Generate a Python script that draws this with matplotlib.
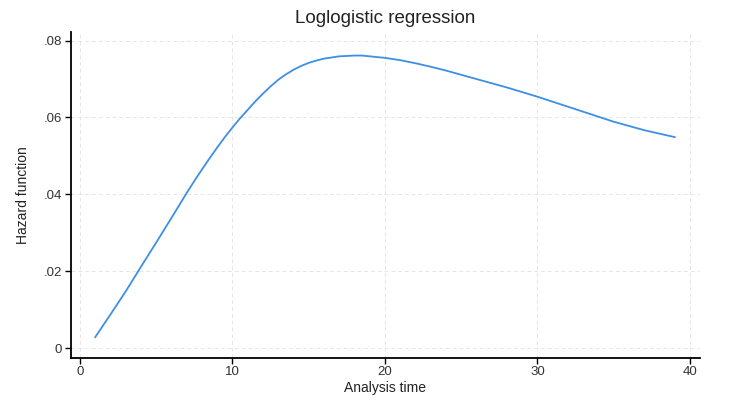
import matplotlib
matplotlib.use("Agg")
import matplotlib.pyplot as plt

# Analysis time and hazard values
tiempo = [1, 2, 3, 4, 5, 6, 7, 7.5, 8, 8.5, 9, 9.5, 10, 10.5, 11, 11.5, 12, 12.5,
          13, 13.5, 14, 14.5, 15, 15.5, 16, 16.5, 17, 17.5, 18, 18.5, 19, 20,
          21, 22, 23, 24, 25, 26, 27, 28, 29, 30, 31, 32, 33, 34, 35, 36, 37, 38, 39]
hazard = [0.0029, 0.0088, 0.0148, 0.0212, 0.0275, 0.0339, 0.0404, 0.0435, 0.0465, 0.0494,
          0.0522, 0.0549, 0.0574, 0.0598, 0.0620, 0.0642, 0.0662, 0.0681,
          0.0698, 0.0712, 0.0724, 0.0734, 0.0742, 0.0748, 0.0753, 0.0756, 0.0759, 0.0760,
          0.0761, 0.0761, 0.0759, 0.0755,
          0.0749, 0.0741, 0.0732, 0.0722, 0.0711, 0.0700, 0.0689, 0.0678, 0.0666, 0.0654,
          0.0641, 0.0628, 0.0615, 0.0602, 0.0589, 0.0578, 0.0567, 0.0558, 0.0549]

x_ticks = [0, 10, 20, 30, 40]
y_ticks = [0, 0.02, 0.04, 0.06, 0.08]
y_labels = ["0", ".02", ".04", ".06", ".08"]

plt.rcParams['font.family'] = ['Liberation Sans', 'DejaVu Sans']

fig = plt.figure(figsize=(7.34, 4.04), dpi=100)
ax = fig.add_axes([0.0963, 0.1146, 0.8574, 0.8069])

ax.plot(tiempo, hazard, color='#3d8fe6', linewidth=1.3)

ax.set_xlim(-0.61, 40.66)
ax.set_ylim(-0.00245, 0.0823)
ax.set_xticks(x_ticks)
ax.set_yticks(y_ticks)
ax.set_yticklabels(y_labels)

ax.grid(True, color='#e6e6e6', linestyle=(0, (4, 3)), linewidth=0.7)
ax.set_axisbelow(True)

for lado in ['top', 'right']:
    ax.spines[lado].set_visible(False)
for lado in ['left', 'bottom']:
    ax.spines[lado].set_linewidth(1.3)
    ax.spines[lado].set_color('black')

ax.tick_params(axis='both', direction='out', length=4, width=1, labelsize=9.5, pad=2,
               colors='black')
ax.tick_params(axis='x', labelcolor='#333333')
ax.tick_params(axis='y', labelcolor='#333333')

ax.set_title("Loglogistic regression", fontsize=13.5, pad=6, color='#222222')
ax.set_xlabel("Analysis time", fontsize=10, labelpad=2, color='#222222')
ax.set_ylabel("Hazard function", fontsize=10, labelpad=10, color='#222222')

fig.savefig("out.png", dpi=100)
